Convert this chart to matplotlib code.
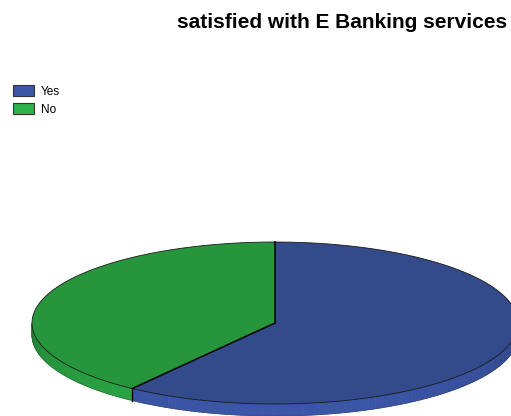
import numpy as np
import matplotlib.pyplot as plt
from matplotlib.patches import Polygon, Patch
from matplotlib.colors import to_rgb

plt.rcParams['font.family'] = ['Liberation Sans', 'DejaVu Sans']

# porcentaje de encuestados
labels = ['Yes', 'No']
values = [60, 40]

top_colors = ['#334a8b', '#26953c']
side_colors = ['#3b56a8', '#2aa845']
legend_colors = ['#3d57a8', '#2db34b']

W, H = 511, 416
fig = plt.figure(figsize=(W / 100, H / 100), dpi=100)
ax = fig.add_axes([0, 0, 1, 1])
ax.set_xlim(0, W)
ax.set_ylim(H, 0)
ax.axis('off')

# elipse de la tapa del pastel (coordenadas en pixeles)
cx, cy = 275, 323
rx, ry = 243, 81
depth = 12


def rim(theta):
    # theta en grados, sentido horario desde las 12
    t = np.radians(theta)
    return cx + rx * np.sin(t), cy - ry * np.cos(t)


def shade(color, f):
    r, g, b = to_rgb(color)
    return (r * f, g * f, b * f)


fracs = np.array(values, dtype=float) / sum(values)
bounds = np.concatenate([[0], np.cumsum(fracs) * 360])

# paredes laterales (solo la mitad frontal es visible)
for i in range(len(values)):
    a, b = max(bounds[i], 90), min(bounds[i + 1], 270)
    if b <= a:
        continue
    steps = np.linspace(a, b, int(b - a) + 2)
    for t0, t1 in zip(steps[:-1], steps[1:]):
        x0, y0 = rim(t0)
        x1, y1 = rim(t1)
        tm = np.radians((t0 + t1) / 2)
        f = 0.72 + 0.28 * abs(np.cos(tm - np.pi)) ** 0.6
        ax.add_patch(Polygon([(x0, y0), (x1, y1), (x1, y1 + depth), (x0, y0 + depth)],
                             closed=True, facecolor=shade(side_colors[i], f),
                             edgecolor=shade(side_colors[i], f), linewidth=0.6))
    # arista entre rebanadas
    if 90 < bounds[i] < 270:
        x0, y0 = rim(bounds[i])
        ax.plot([x0, x0], [y0, y0 + depth], color='black', lw=1.0)

# borde inferior del lateral
tb = np.linspace(90, 270, 200)
xb, yb = rim(tb)
ax.plot(xb, yb + depth, color=(0.2, 0.2, 0.2), lw=0.4, alpha=0.5)

# tapa superior
for i in range(len(values)):
    th = np.linspace(bounds[i], bounds[i + 1], 200)
    xs, ys = rim(th)
    pts = [(cx, cy)] + list(zip(xs, ys))
    ax.add_patch(Polygon(pts, closed=True, facecolor=top_colors[i],
                         edgecolor='none'))
    ax.plot(xs, ys, color=(0.1, 0.1, 0.1), lw=0.6)

for b in bounds[:-1]:
    x0, y0 = rim(b)
    ax.plot([cx, x0], [cy, y0], color='black', lw=1.1)

fig.text(342 / W, 1 - 22 / H, 'satisfied with E Banking services',
         ha='center', va='center', fontsize=15, fontweight='bold')

handles = [Patch(facecolor=c, edgecolor='#333333', linewidth=0.8) for c in legend_colors]
fig.legend(handles, labels, loc='upper left', bbox_to_anchor=(13 / W, 1 - 85 / H),
           frameon=False, fontsize=8.5, handlelength=1.75, handleheight=1.1,
           handletextpad=0.6, labelspacing=0.45, borderaxespad=0, borderpad=0)

fig.savefig('out.png', dpi=100)
